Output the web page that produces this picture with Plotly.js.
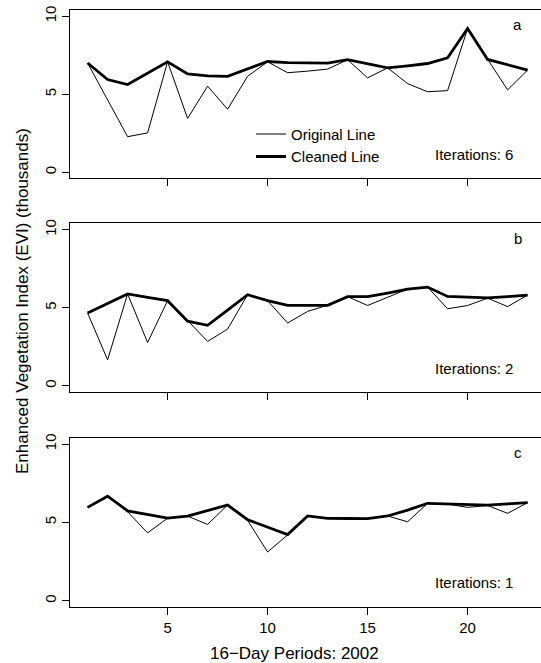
<!DOCTYPE html>
<html>
<head>
<meta charset="utf-8">
<script src="https://cdn.plot.ly/plotly-3.0.1.min.js"></script>
<style>
  html, body { margin: 0; padding: 0; background: #ffffff; }
  #chart { width: 541px; height: 663px; }
</style>
</head>
<body>
<div id="chart"></div>
<script>
// 16-day periods of 2002
const periods = [1,2,3,4,5,6,7,8,9,10,11,12,13,14,15,16,17,18,19,20,21,22,23];

// Panel a (Iterations: 6)
const originalA = [7.0, 4.64, 2.28, 2.52, 7.08, 3.45, 5.52, 4.04, 6.15, 7.08, 6.38, 6.48, 6.61, 7.21, 6.05, 6.69, 5.68, 5.16, 5.23, 9.21, 7.23, 5.28, 6.55];
const cleanedA  = [7.0, 5.94, 5.62, 6.33, 7.08, 6.30, 6.18, 6.15, 6.62, 7.10, 7.03, 7.01, 7.00, 7.22, 6.96, 6.69, 6.82, 6.97, 7.34, 9.21, 7.23, 6.89, 6.55];

// Panel b (Iterations: 2)
const originalB = [4.67, 1.67, 5.89, 2.78, 5.46, 4.19, 2.85, 3.64, 5.84, 5.46, 4.03, 4.77, 5.17, 5.72, 5.15, 5.65, 6.20, 6.33, 4.94, 5.15, 5.62, 5.08, 5.82];
const cleanedB  = [4.67, 5.30, 5.89, 5.67, 5.46, 4.15, 3.88, 4.86, 5.84, 5.46, 5.16, 5.16, 5.16, 5.72, 5.72, 5.95, 6.20, 6.33, 5.73, 5.69, 5.64, 5.72, 5.82];

// Panel c (Iterations: 1)
const originalC = [5.96, 6.67, 5.68, 4.33, 5.27, 5.40, 4.87, 6.11, 5.13, 3.11, 4.20, 5.41, 5.26, 5.25, 5.24, 5.41, 5.04, 6.22, 6.17, 5.96, 6.08, 5.58, 6.26];
const cleanedC  = [5.96, 6.67, 5.74, 5.51, 5.27, 5.40, 5.75, 6.11, 5.17, 4.71, 4.22, 5.41, 5.26, 5.25, 5.24, 5.41, 5.78, 6.22, 6.18, 6.12, 6.10, 6.18, 6.26];

const panelLabels = ["a", "b", "c"];
const iterationLabels = ["Iterations: 6", "Iterations: 2", "Iterations: 1"];
const seriesNames = ["Original Line", "Cleaned Line"];
const xTicks = [5, 10, 15, 20];
const yTicks = [0, 5, 10];
const xTitle = "16\u2212Day Periods: 2002";
const yTitle = "Enhanced Vegetation Index (EVI) (thousands)";

const FONT = "'Liberation Sans', Arial, Helvetica, sans-serif";
const originals = [originalA, originalB, originalC];
const cleaneds = [cleanedA, cleanedB, cleanedC];

const traces = [];
for (let p = 0; p < 3; p++) {
  const xa = p === 0 ? "x" : "x" + (p + 1);
  const ya = p === 0 ? "y" : "y" + (p + 1);
  traces.push({
    x: periods, y: originals[p], xaxis: xa, yaxis: ya,
    type: "scatter", mode: "lines", name: seriesNames[0],
    line: {color: "#000000", width: 1}, showlegend: p === 0,
    hoverinfo: "skip"
  });
  traces.push({
    x: periods, y: cleaneds[p], xaxis: xa, yaxis: ya,
    type: "scatter", mode: "lines", name: seriesNames[1],
    line: {color: "#000000", width: 2.8}, showlegend: p === 0,
    hoverinfo: "skip"
  });
}

const domains = [[0.7178, 1.0], [0.3598, 0.6424], [0.0, 0.2834]];

function xAxis(p) {
  return {
    domain: [0, 1], anchor: p === 0 ? "y" : "y" + (p + 1),
    range: [0.12, 23.67], tickmode: "array", tickvals: xTicks,
    ticktext: xTicks.map(String),
    showticklabels: p === 2, ticks: "outside", ticklen: 7, tickwidth: 1, tickcolor: "#000",
    showline: true, mirror: true, linecolor: "#000", linewidth: 1,
    showgrid: false, zeroline: false,
    tickfont: {family: FONT, size: 15, color: "#000"}
  };
}
function yAxis(p) {
  return {
    domain: domains[p], anchor: p === 0 ? "x" : "x" + (p + 1),
    range: [-0.4, 10.4], tickmode: "array", tickvals: yTicks,
    ticktext: yTicks.map(String), tickangle: -90,
    ticks: "outside", ticklen: 7, tickwidth: 1, tickcolor: "#000",
    showline: true, mirror: false, linecolor: "#000", linewidth: 1,
    showgrid: false, zeroline: false,
    tickfont: {family: FONT, size: 15, color: "#000"}
  };
}

const annotations = [];
for (let p = 0; p < 3; p++) {
  const xd = (p === 0 ? "x" : "x" + (p + 1)) + " domain";
  const yd = (p === 0 ? "y" : "y" + (p + 1)) + " domain";
  annotations.push({
    text: panelLabels[p], xref: xd, yref: yd, x: 0.951, y: 0.911,
    xanchor: "center", yanchor: "middle", showarrow: false,
    font: {family: FONT, size: 15, color: "#000"}
  });
  annotations.push({
    text: iterationLabels[p], xref: xd, yref: yd, x: 0.9448, y: 0.1424,
    xanchor: "right", yanchor: "middle", showarrow: false,
    font: {family: FONT, size: 15, color: "#000"}
  });
}
annotations.push({
  text: xTitle, xref: "paper", yref: "paper", x: 0.4777, y: -0.0787,
  xanchor: "center", yanchor: "middle", showarrow: false,
  font: {family: FONT, size: 17, color: "#000"}
});
annotations.push({
  text: yTitle, xref: "paper", yref: "paper", x: -0.1008, y: 0.5117,
  xanchor: "center", yanchor: "middle", showarrow: false, textangle: -90,
  font: {family: FONT, size: 17, color: "#000"}
});

const layout = {
  width: 541, height: 663,
  margin: {l: 70, r: 0, t: 10, b: 56, pad: 0},
  paper_bgcolor: "#ffffff", plot_bgcolor: "#ffffff",
  font: {family: FONT, size: 15, color: "#000"},
  showlegend: true,
  legend: {
    x: 0.3843, y: 0.8195, xanchor: "left", yanchor: "top",
    xref: "paper", yref: "paper",
    bgcolor: "rgba(0,0,0,0)", borderwidth: 0,
    font: {family: FONT, size: 15, color: "#000"},
    traceorder: "normal", tracegroupgap: 0
  },
  xaxis: xAxis(0), xaxis2: xAxis(1), xaxis3: xAxis(2),
  yaxis: yAxis(0), yaxis2: yAxis(1), yaxis3: yAxis(2),
  annotations: annotations
};

Plotly.newPlot("chart", traces, layout, {staticPlot: true, displayModeBar: false});
</script>
</body>
</html>
